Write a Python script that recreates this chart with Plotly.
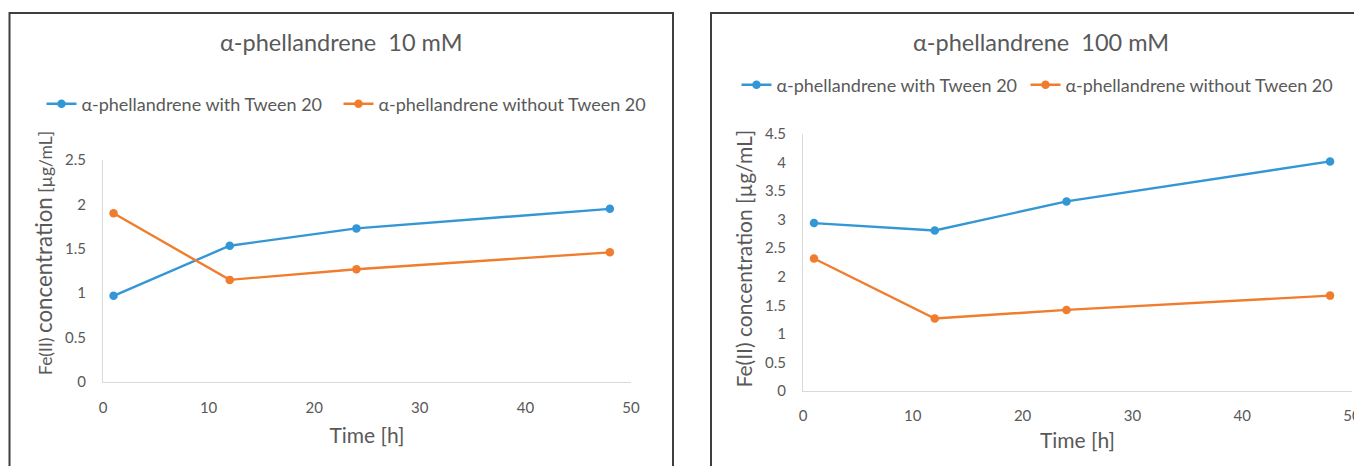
import plotly.graph_objects as go

# page body has an 8px margin, so the figure is drawn 8px smaller and positions are
# given in window pixels, converted below
OFF = 8
W, H = 1362 - OFF, 466 - OFF

time_h = [1, 12, 24, 48]
with_tween_10 = [0.97, 1.535, 1.73, 1.95]
without_tween_10 = [1.90, 1.15, 1.27, 1.46]
with_tween_100 = [2.94, 2.81, 3.32, 4.02]
without_tween_100 = [2.32, 1.27, 1.42, 1.67]

series_names = ["α-phellandrene with Tween 20", "α-phellandrene without Tween 20"]
titles = ["α-phellandrene  10 mM", "α-phellandrene  100 mM"]
x_title = "Time [h]"
y_title_left = ('<span style="font-size:17.5px">Fe(II) </span>concentration'
                '<span style="font-size:17.5px"> [µg/mL]</span>')
y_title_right = "Fe(II) concentration [µg/mL]"

BLUE = "#3497D5"
ORANGE = "#F07D2D"
GRAY = "#595959"
FONT = "Lato"


def px_x(p):
    return (p - OFF) / W


def px_y(p):
    return 1 - (p - OFF) / H


fig = go.Figure()

for vals, name, color, ax, leg in [
    (with_tween_10, series_names[0], BLUE, "", "legend"),
    (without_tween_10, series_names[1], ORANGE, "", "legend2"),
    (with_tween_100, series_names[0], BLUE, "2", "legend3"),
    (without_tween_100, series_names[1], ORANGE, "2", "legend4"),
]:
    fig.add_trace(go.Scatter(
        x=time_h, y=vals, name=name, mode="lines+markers",
        line=dict(color=color, width=2.4),
        marker=dict(color=color, size=8.5),
        xaxis="x" + ax, yaxis="y" + ax, legend=leg,
    ))

axis_common = dict(
    showgrid=False, zeroline=False, showline=True, linecolor="#D9D9D9", linewidth=1,
    ticks="", tickfont=dict(family=FONT, size=15, color=GRAY), automargin=False,
)


def legend_at(x_px, y_px):
    return dict(orientation="h", x=px_x(x_px), y=px_y(y_px), xanchor="left", yanchor="middle",
                font=dict(family=FONT, size=18, color=GRAY), itemwidth=30,
                bgcolor="rgba(0,0,0,0)")


fig.update_layout(
    width=W, height=H,
    margin=dict(l=0, r=0, t=0, b=0, autoexpand=False),
    paper_bgcolor="white", plot_bgcolor="white",
    font=dict(family=FONT, color=GRAY),
    showlegend=True,
    xaxis=dict(domain=[px_x(103), px_x(631)], range=[0, 50], dtick=10, anchor="y",
               ticklabelstandoff=12,
               title=dict(text=x_title, font=dict(size=21, color=GRAY), standoff=13),
               **axis_common),
    yaxis=dict(domain=[px_y(382), px_y(160)], range=[0, 2.5], dtick=0.5, anchor="x",
               ticklabelstandoff=13, **axis_common),
    xaxis2=dict(domain=[px_x(803), px_x(1352)], range=[0, 50], dtick=10, anchor="y2",
                ticklabelstandoff=11,
                title=dict(text=x_title, font=dict(size=21, color=GRAY), standoff=10),
                **axis_common),
    yaxis2=dict(domain=[px_y(391), px_y(134)], range=[0, 4.5], dtick=0.5, anchor="x2",
                ticklabelstandoff=13, **axis_common),
    legend=legend_at(41.5, 104),
    legend2=legend_at(338.5, 104),
    legend3=legend_at(736.5, 85),
    legend4=legend_at(1025.5, 85),
)

# chart titles
fig.add_annotation(text=titles[0], x=px_x(341), y=px_y(42), xref="paper", yref="paper",
                   xanchor="center", yanchor="middle",
                   showarrow=False, font=dict(family=FONT, size=23.5, color=GRAY))
fig.add_annotation(text=titles[1], x=px_x(1041), y=px_y(42), xref="paper", yref="paper",
                   xanchor="center", yanchor="middle",
                   showarrow=False, font=dict(family=FONT, size=23.5, color=GRAY))

# y-axis titles (off-centre in the reference, so placed as rotated annotations)
fig.add_annotation(text=y_title_left, x=px_x(43), y=px_y(253), xref="paper", yref="paper",
                   xanchor="center", yanchor="middle", textangle=-90,
                   showarrow=False, font=dict(family=FONT, size=22.3, color=GRAY))
fig.add_annotation(text=y_title_right, x=px_x(743), y=px_y(258.5), xref="paper", yref="paper",
                   xanchor="center", yanchor="middle", textangle=-90,
                   showarrow=False, font=dict(family=FONT, size=21, color=GRAY))

# panel borders
fig.add_shape(type="rect", xref="paper", yref="paper", x0=px_x(9.5), x1=px_x(673),
              y0=-0.02, y1=px_y(13), line=dict(color="#3F3F3F", width=2))
fig.add_shape(type="rect", xref="paper", yref="paper", x0=px_x(711), x1=1.02,
              y0=-0.02, y1=px_y(13), line=dict(color="#3F3F3F", width=2))

fig.write_html("out.html")
